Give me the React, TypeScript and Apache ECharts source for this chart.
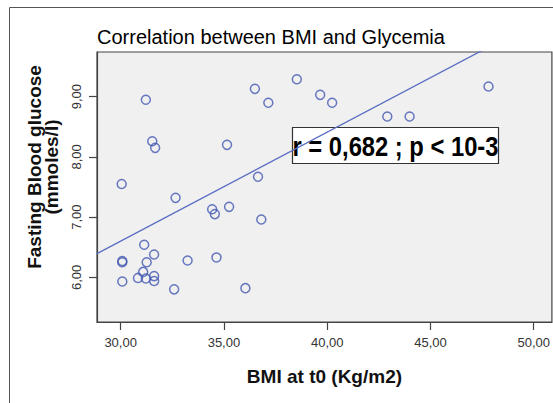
import React, { useEffect, useRef } from "react";
import * as echarts from "echarts";

const titleText = "Correlation between BMI and Glycemia";
const xName = "BMI at t0 (Kg/m2)";
const yName = "Fasting Blood glucose\n(mmoles/l)";
const annotation = "r = 0,682 ; p < 10-3";

// BMI (kg/m2) values of each patient
const bmi = [
  31.22, 31.53, 31.67, 30.05, 32.66, 34.43, 34.56, 35.25, 35.15, 36.65,
  36.81, 36.5, 37.15, 38.53, 39.66, 40.24, 42.91, 43.99, 47.81,
  31.14, 31.62, 31.26, 30.08, 30.08, 31.09, 30.84, 31.22, 31.62, 31.62,
  30.08, 32.59, 33.24, 34.64, 36.04,
];
// fasting glycemia (mmol/l) of each patient
const glucose = [
  8.95, 8.26, 8.15, 7.55, 7.32, 7.13, 7.05, 7.17, 8.2, 7.67,
  6.96, 9.13, 8.9, 9.29, 9.03, 8.9, 8.67, 8.67, 9.17,
  6.54, 6.38, 6.25, 6.27, 6.25, 6.09, 5.99, 5.98, 6.02, 5.94,
  5.93, 5.8, 6.28, 6.33, 5.82,
];

const xTicks = [30, 35, 40, 45, 50];
const yTicks = [6, 7, 8, 9];
const xRange = [28.855, 50.88];
const yRange = [5.258, 9.742];

// fitted regression line
const fitIntercept = 1.17;
const fitSlope = 0.181;

const fmt = (v: number) => v.toFixed(2).replace(".", ",");

export default function App() {
  const ref = useRef<HTMLDivElement>(null);
  useEffect(() => {
    if (!ref.current) return;
    const chart = echarts.init(ref.current, null, { renderer: "svg" });
    const points = bmi.map((x, i) => [x, glucose[i]]);
    const fitLine = xRange.map((x) => [x, fitIntercept + fitSlope * x]);
    const font = "'Liberation Sans', Arial, sans-serif";
    chart.setOption({
      animation: false,
      backgroundColor: "#ffffff",
      title: {
        text: titleText,
        left: 92,
        top: 22,
        textStyle: { fontFamily: font, fontSize: 20, fontWeight: "normal", color: "#000" },
      },
      grid: {
        left: 97,
        top: 52,
        right: 0,
        bottom: 81,
        show: true,
        backgroundColor: "#f0f0f0",
        borderColor: "#444",
        borderWidth: 1.2,
      },
      xAxis: {
        type: "value",
        min: xRange[0],
        max: xRange[1],
        name: xName,
        nameLocation: "middle",
        nameGap: 45,
        nameTextStyle: { fontFamily: font, fontSize: 19, fontWeight: "bold", color: "#111" },
        splitLine: { show: false },
        axisLine: { show: true, lineStyle: { color: "#444", width: 1.2 } },
        axisTick: { show: true, length: 8, customValues: xTicks, lineStyle: { color: "#444", width: 1.2 } },
        axisLabel: {
          customValues: xTicks,
          formatter: (v: number) => fmt(v),
          margin: 14,
          fontFamily: font,
          fontSize: 13,
          color: "#333",
        },
      },
      yAxis: {
        type: "value",
        min: yRange[0],
        max: yRange[1],
        name: yName,
        nameLocation: "middle",
        nameGap: 37,
        nameRotate: 90,
        nameTextStyle: {
          fontFamily: font,
          fontSize: 19,
          fontWeight: "bold",
          color: "#111",
          lineHeight: 17,
          padding: [0, 0, 0, 40],
        },
        splitLine: { show: false },
        axisLine: { show: true, lineStyle: { color: "#444", width: 1.2 } },
        axisTick: { show: true, length: 8, customValues: yTicks, lineStyle: { color: "#444", width: 1.2 } },
        axisLabel: {
          customValues: yTicks,
          formatter: (v: number) => fmt(v),
          rotate: 90,
          margin: 14,
          fontFamily: font,
          fontSize: 13,
          color: "#333",
        },
      },
      series: [
        {
          type: "line",
          data: fitLine,
          showSymbol: false,
          clip: true,
          lineStyle: { color: "#5a6ec2", width: 1.3 },
          z: 2,
        },
        {
          type: "scatter",
          data: points,
          symbol: "circle",
          symbolSize: 9,
          itemStyle: { color: "rgba(0,0,0,0)", borderColor: "#4257b2", borderWidth: 1.5 },
          z: 3,
        },
      ],
      graphic: [
        {
          type: "rect",
          shape: { x: 9.5, y: 7.5, width: 620, height: 420 },
          style: { fill: "none", stroke: "#555", lineWidth: 1 },
          z: -10,
          silent: true,
        },
        {
          type: "group",
          z: 100,
          children: [
            {
              type: "rect",
              shape: { x: 292.5, y: 127.5, width: 206, height: 36 },
              style: { fill: "#ffffff", stroke: "#333", lineWidth: 1.2 },
            },
            {
              type: "text",
              x: 395.5,
              y: 146,
              scaleX: 0.88,
              style: {
                text: annotation,
                fontFamily: font,
                fontSize: 27,
                fontWeight: "bold",
                fill: "#000",
                align: "center",
                verticalAlign: "middle",
              },
            },
          ],
        },
      ],
    });
    return () => chart.dispose();
  }, []);
  return (
    <div
      ref={ref}
      style={{ position: "absolute", left: 0, top: 0, width: 553, height: 403 }}
    />
  );
}
